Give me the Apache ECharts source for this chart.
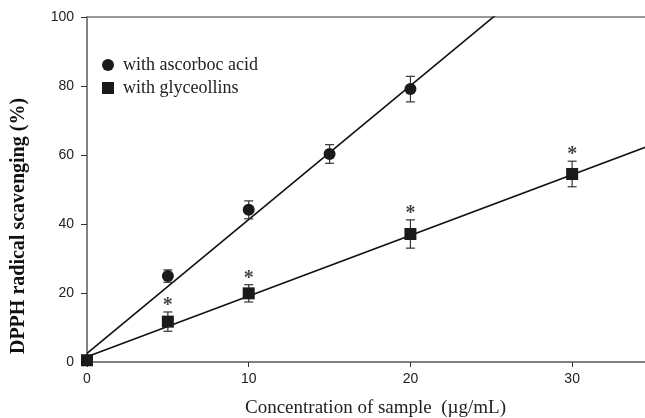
<!DOCTYPE html>
<html>
<head>
<meta charset="utf-8">
<script src="https://cdn.jsdelivr.net/npm/echarts@6/dist/echarts.min.js"></script>
<style>
  html, body { margin: 0; padding: 0; background: #fff; }
  #chart { width: 645px; height: 418px; }
</style>
</head>
<body>
<div id="chart"></div>
<script>
// Concentration of sample (µg/mL)
const ascConc = [0, 5, 10, 15, 20];
const ascMean = [0.5, 24.9, 44.1, 60.3, 79.1];
const ascErr  = [0, 1.8, 2.6, 2.7, 3.7];

const glyConc = [0, 5, 10, 20, 30];
const glyMean = [0.5, 11.7, 19.9, 37.1, 54.5];
const glyErr  = [0, 2.8, 2.5, 4.1, 3.7];
// significance marks above glyceollin points
const glySig  = [false, true, true, true, true];

// linear fits [intercept, slope]
const ascFit = [2.5, 3.88];
const glyFit = [1.5, 1.76];

const xTicks = [0, 10, 20, 30];
const yTicks = [0, 20, 40, 60, 80, 100];

const seriesNames = ['with ascorboc acid', 'with glyceollins'];
const xTitle = 'Concentration of sample  (µg/mL)';
const yTitle = 'DPPH radical scavenging (%)';

const X_MAX = 35;

function fitLine(fit) {
  return [[0, fit[0]], [X_MAX, fit[0] + fit[1] * X_MAX]];
}

function errorData(xs, ys, es) {
  return xs.map((x, i) => [x, ys[i], es[i]]);
}

function renderError(params, api) {
  const x = api.value(0), y = api.value(1), e = api.value(2);
  if (!e) return null;
  const top = api.coord([x, y + e]);
  const bot = api.coord([x, y - e]);
  const hw = 4.5;
  const style = { stroke: '#333', lineWidth: 1.2 };
  return {
    type: 'group',
    children: [
      { type: 'line', shape: { x1: top[0], y1: top[1], x2: bot[0], y2: bot[1] }, style },
      { type: 'line', shape: { x1: top[0] - hw, y1: top[1], x2: top[0] + hw, y2: top[1] }, style },
      { type: 'line', shape: { x1: bot[0] - hw, y1: bot[1], x2: bot[0] + hw, y2: bot[1] }, style }
    ]
  };
}

const sigData = glyConc
  .map((x, i) => glySig[i] ? [x, glyMean[i] + glyErr[i]] : null)
  .filter(Boolean);

const chart = echarts.init(document.getElementById('chart'), null, { renderer: 'canvas' });

const axisGray = '#7a7a7a';
const serif = 'Liberation Serif, Times New Roman, serif';
const tickFont = { fontFamily: 'Liberation Sans, Arial, sans-serif', fontSize: 14, color: '#222' };

chart.setOption({
  animation: false,
  backgroundColor: '#fff',
  grid: {
    left: 87, top: 17, width: 566, height: 345,
    containLabel: false,
    outerBoundsMode: 'none',
    show: true, borderColor: axisGray, borderWidth: 1.5, backgroundColor: 'transparent'
  },
  legend: {
    left: 97, top: 51,
    orient: 'vertical',
    itemGap: 5,
    itemWidth: 12, itemHeight: 12,
    data: [
      { name: seriesNames[0], icon: 'circle' },
      { name: seriesNames[1], icon: 'rect' }
    ],
    textStyle: { fontFamily: serif, fontSize: 18, color: '#222', padding: [0, 0, 0, 4] }
  },
  graphic: [
    {
      type: 'text', left: 245, top: 399,
      style: { text: xTitle, fontFamily: serif, fontSize: 19, fill: '#222' }
    },
    {
      type: 'text', x: 19, y: 226, rotation: Math.PI / 2,
      style: {
        text: yTitle, fontFamily: serif, fontSize: 20, fontWeight: 'bold', fill: '#111',
        align: 'center', verticalAlign: 'middle'
      },
      originX: 0, originY: 0
    }
  ],
  xAxis: {
    type: 'value', min: 0, max: X_MAX, interval: 10,
    axisLine: { show: true, lineStyle: { color: axisGray, width: 1.5 } },
    axisTick: { show: true, inside: false, length: 5, lineStyle: { color: '#333' }, customValues: xTicks },
    axisLabel: { margin: 10, ...tickFont, customValues: xTicks },
    splitLine: { show: false }
  },
  yAxis: {
    type: 'value', min: 0, max: 100, interval: 20,
    axisLine: { show: true, lineStyle: { color: axisGray, width: 1.5 } },
    axisTick: { show: true, inside: false, length: 6, lineStyle: { color: '#333' } },
    axisLabel: { margin: 13, ...tickFont, customValues: yTicks },
    splitLine: { show: false }
  },
  series: [
    {
      type: 'line', data: fitLine(ascFit), symbol: 'none', silent: true, clip: true,
      lineStyle: { color: '#111', width: 1.6 }, z: 2
    },
    {
      type: 'line', data: fitLine(glyFit), symbol: 'none', silent: true, clip: true,
      lineStyle: { color: '#111', width: 1.6 }, z: 2
    },
    {
      type: 'custom', renderItem: renderError, data: errorData(ascConc, ascMean, ascErr), z: 3
    },
    {
      type: 'custom', renderItem: renderError, data: errorData(glyConc, glyMean, glyErr), z: 3
    },
    {
      name: seriesNames[0], type: 'scatter', symbol: 'circle', symbolSize: 12,
      data: ascConc.map((x, i) => [x, ascMean[i]]),
      itemStyle: { color: '#1a1a1a', opacity: 1 }, z: 4
    },
    {
      name: seriesNames[1], type: 'scatter', symbol: 'rect', symbolSize: 12,
      data: glyConc.map((x, i) => [x, glyMean[i]]),
      itemStyle: { color: '#1a1a1a', opacity: 1 }, z: 5
    },
    {
      type: 'scatter', symbolSize: 0, silent: true, data: sigData, z: 5,
      label: {
        show: true, position: 'top', distance: -4, formatter: '*',
        fontFamily: serif, fontSize: 20, fontWeight: 'bold', color: '#111'
      }
    }
  ]
});
</script>
</body>
</html>
